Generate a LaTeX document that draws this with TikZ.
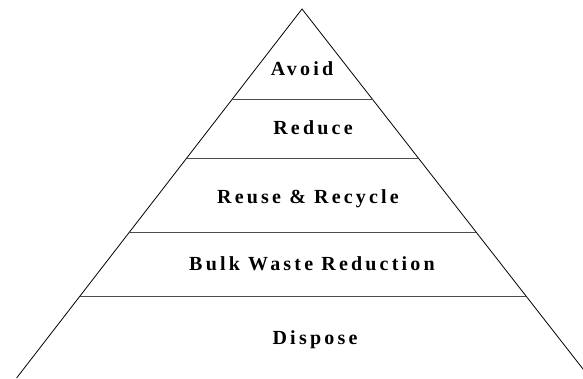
\documentclass[tikz,border=0pt]{standalone}
\usepackage{fontspec}
\setmainfont{Liberation Serif}
\usetikzlibrary{calc}

\begin{document}
\begin{tikzpicture}[x=1pt,y=-1pt,line width=0.8pt,
  tier/.style={font=\bfseries\fontsize{20}{22}\selectfont\addfontfeature{LetterSpace=16},anchor=base},
  divider/.style={draw=black!70,line width=1pt}]
  \useasboundingbox (0,0) rectangle (583,378);
  \coordinate (top) at (302,9);
  \coordinate (bl) at (16.6,378);
  \coordinate (br) at (590,378);
  \begin{scope}
    \clip (0,0) rectangle (583,378);
    \draw (bl)--(top)--(br);
  \end{scope}
  % tier borders
  \foreach \y in {100,158,232,296}{
    \pgfmathsetmacro{\t}{(\y-9)/369}
    \draw[divider] ($(top)!\t!(bl)$) -- ($(top)!\t!(br)$);
  }
  \node[tier] (avoid) at (302,75) {Avoid};
  \node[tier] (reduce) at (313,134) {Reduce};
  \node[tier] (reuse) at (308,203) {Reuse \& Recycle};
  \node[tier] (bulk) at (312,270) {Bulk Waste Reduction};
  \node[tier] (dispose) at (315,344) {Dispose};
\end{tikzpicture}
\end{document}
